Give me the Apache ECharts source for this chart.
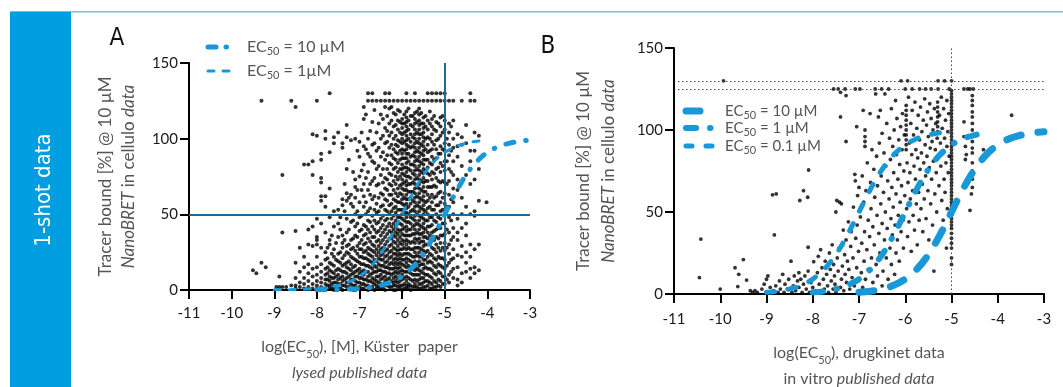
<!DOCTYPE html>
<html><head><meta charset="utf-8">
<script src="https://cdn.jsdelivr.net/npm/echarts@6/dist/echarts.min.js"></script>
<style>html,body{margin:0;padding:0;background:#fff}#c{width:1063px;height:387px}</style>
</head><body><div id="c"></div>
<script>
// ---------- DATA ----------
const xMin = -11, xMax = -3, xStep = 1;
const yMin = 0, yMax = 150, yStep = 50;
const refA = { x: -5, y: 50 };
const refB = { x: -5, ys: [125, 130] };

// Panel A scatter: columns [x, [y values]]
const colsA = [
[-9.5,[13]],[-9.42,[11]],[-9.3,[125,18]],[-9.2,[15]],[-8.95,[2]],[-8.88,[9,2]],[-8.81,[76,38,2]],[-8.72,[2]],
[-8.6,[125,3]],[-8.5,[121,39,18,8,3,1]],[-8.4,[28,12,5,2]],[-8.3,[83,22,15,8,4,1]],[-8.2,[83,40,30,17,11,6,2]],
[-8.1,[103,85,76,42,29,14,9,4,1]],[-8.0,[125,102,47,35,33,30,22,15,10,6,3,1]],
[-7.9,[90,86,74,71,62,59,44,28,17,12,8,5,2,0]],[-7.8,[105,100,62,55,38,25,20,14,10,7,4,1]],
[-7.7,[130,91,67,48,33,30,18,13,9,6,3,1]],[-7.6,[101,97,52,42,27,22,16,11,8,5,2,0]],
[-7.5,[104,53,44,35,24,19,14,10,7,4,1]],[-7.4,[97,94,60,56,36,31,28,21,16,12,9,6,3,0]],
[-7.3,[109,101,80,64,59,47,38,29,25,18,15,11,8,5,2]],[-7.2,[99,63,57,45,33,27,22,17,13,10,7,4,1]],
[-7.1,[100,73,68,61,50,42,36,26,20,16,12,9,6,3,0]],[-7.0,[98,88,75,58,48,39,31,27,22,18,14,11,8,5,2]],
[-6.9,[121,113,95,83,70,62,55,43,36,30,25,21,17,13,10,7,4,1]],
[-6.8,[130,125,100,90,78,66,52,46,40,34,28,24,20,16,12,9,6,3,0]],
[-6.7,[130,125,111,96,85,72,60,49,42,35,30,26,22,18,14,11,8,5,2]],
[-6.6,[125,104,92,80,69,57,51,44,38,32,27,23,19,15,12,9,6,3,1]],
[-6.5,[125,116,100,88,76,64,55,47,41,36,31,27,23,20,16,13,10,7,4,1]],
[-6.4,[130,125,121,107,97,86,74,67,60,53,46,40,35,30,26,22,18,15,12,9,6,3,0]],
[-6.3,[130,125,120,110,102,94,84,77,70,63,56,50,44,39,34,29,25,21,17,14,11,8,5,2]],
[-6.2,[125,117,108,100,93,87,80,72,66,60,54,49,44,40,36,32,28,24,20,17,14,11,8,5,3,0]],
[-6.1,[125,119,112,106,99,95,90,84,78,73,67,62,58,53,48,44,40,37,33,29,26,23,20,17,14,11,8,5,2]],
[-6.0,[125,113,110,107,103,100,97,93,90,87,83,80,77,73,70,67,63,60,57,53,50,47,43,40,37,33,30,27,23,20,17,13,10,7,3,0]],
[-5.9,[130,125,118,114,111,108,105,102,99,96,93,90,87,84,81,78,75,72,69,66,63,60,57,54,51,48,45,42,39,36,33,30,27,24,21,18,15,12,9,6,3,1]],
[-5.8,[125,115,109,103,98,94,88,83,79,74,70,65,61,57,52,48,44,40,36,31,27,23,19,15,11,7,3,0]],
[-5.7,[130,125,117,113,110,106,103,100,97,94,91,88,85,82,79,76,73,70,67,64,61,58,55,52,49,46,43,40,37,34,31,28,25,22,19,16,13,10,7,4,2]],
[-5.6,[125,120,116,112,109,106,103,100,97,94,91,88,85,82,79,76,73,70,67,64,61,58,55,52,49,46,43,40,37,34,31,28,25,22,19,16,13,10,7,4,1]],
[-5.5,[125,114,110,107,104,101,98,95,92,89,86,83,80,77,74,71,68,65,62,59,56,53,50,47,44,41,38,35,32,29,26,23,20,17,14,11,8,5,2]],
[-5.4,[130,125,112,106,101,96,91,86,81,77,72,68,63,59,54,50,46,42,38,34,30,26,22,18,14,10,6,3]],
[-5.3,[130,125,113,108,103,98,93,88,83,78,73,68,63,58,53,48,43,38,33,28,23,18,13,8,4,1]],
[-5.2,[130,125,111,105,99,93,87,80,74,68,62,56,50,45,40,35,30,25,20,15,10,5,2]],
[-5.1,[130,125,114,108,102,95,90,84,78,71,65,58,52,47,41,36,31,26,21,16,11,6,2]],
[-5.0,[130,125,112,106,97,92,85,79,71,64,57,50,44,37,31,26,20,14,9,4]],
[-4.9,[125,110,104,96,89,80,72,63,55,48,38,30,24,18,10,5]],
[-4.8,[125,112,100,94,85,76,67,58,50,41,35,27,21,14,8]],
[-4.7,[103,95,88,73,66,47,38,33,23,15,7,3]],
[-4.6,[125,101,96,82,61,50,41,29,22,11,5]],
[-4.5,[109,97,76,55,44,36,25,18,12]],
[-4.4,[130,125,92,85,70,50,30,22,14,8]],
[-4.3,[125,104,92,73,52,49,27,15,11]],
[-4.2,[102,80,59,30,13]],
[-4.02,[58]]
];
// Panel A: intermediate columns of the dense region
const colsA2 = [
[-7.75,[28,21,15,11,7,3]],[-7.65,[36,24,17,12,8,4,1]],[-7.55,[31,20,13,9,5,2]],
[-7.45,[48,40,25,18,13,8,4,1]],[-7.35,[70,52,33,23,17,12,7,3]],[-7.25,[86,61,40,30,24,19,14,9,5,2]],
[-7.15,[78,55,46,34,28,21,15,11,7,3,0]],[-7.05,[92,66,52,44,35,29,24,19,13,9,5,1]],
[-6.95,[104,79,66,49,40,33,27,22,17,12,8,4,1]],[-6.85,[116,93,74,58,50,42,37,31,26,21,16,12,7,3]],
[-6.75,[105,88,70,63,54,45,38,32,27,23,19,15,10,6,2]],[-6.65,[119,97,84,74,62,53,46,40,35,29,25,20,16,12,7,4,0]],
[-6.55,[110,94,82,70,61,52,45,39,33,29,25,21,17,13,9,5,2]],[-6.45,[113,102,91,80,71,63,56,49,43,38,33,28,24,20,16,12,8,4,1]],
[-6.35,[115,105,98,89,80,73,66,59,52,47,42,37,32,27,23,19,15,11,7,3]],
[-6.25,[121,112,104,96,89,83,76,69,63,57,52,47,42,38,34,30,26,22,18,14,10,6,2]],
[-6.15,[116,109,102,96,91,86,81,75,70,64,59,55,51,46,42,38,35,31,27,24,21,18,15,12,9,6,3,0]],
[-6.05,[118,111,104,98,92,86,80,75,69,64,58,53,48,44,39,35,31,27,24,21,18,15,12,9,6,3,1]],
[-5.95,[116,110,104,98,92,87,81,76,71,66,61,56,51,46,41,36,32,28,24,20,16,12,8,4,1]],
[-5.85,[120,112,106,100,95,90,85,80,75,70,65,60,55,50,45,40,36,32,28,24,20,16,12,8,4,2]],
[-5.75,[115,108,101,95,89,83,77,71,65,59,53,47,42,37,32,27,22,18,14,10,6,2]],
[-5.65,[118,111,104,98,92,86,80,74,68,62,56,50,44,38,33,28,23,18,14,10,6,2]],
[-5.55,[117,110,103,96,90,84,78,72,66,60,54,48,42,37,32,27,22,17,12,8,4,1]],
[-5.45,[115,108,100,93,86,79,72,65,58,52,46,40,35,30,25,20,15,10,6,2]],
[-5.35,[118,110,100,92,84,76,68,61,55,48,42,36,30,24,19,14,9,5,1]],
[-5.25,[115,106,96,86,77,69,61,53,46,39,33,27,21,16,11,6,2]],
[-5.15,[110,100,90,81,72,64,56,48,41,34,28,22,17,12,7,3]],
[-5.05,[115,104,93,82,72,61,53,44,36,28,21,15,9,4]],
[-4.95,[100,85,70,55,40,28,16,7]],[-4.85,[108,92,78,60,46,33,20,12]]
];

// Panel A dose-response curves
const curveA10 = [[-8,0.1],[-7.75,0.2],[-7.5,0.3],[-7.25,0.6],[-7,1],[-6.75,1.7],[-6.5,3.1],[-6.25,5.3],[-6,9.1],[-5.75,15.1],[-5.5,24],[-5.25,36],[-5,50],[-4.75,64],[-4.5,76],[-4.25,84.9],[-4,90.9],[-3.75,94.7],[-3.5,96.9],[-3.25,98.3],[-3,99]];
const curveA1 = [[-9,0.1],[-8.75,0.2],[-8.5,0.3],[-8.25,0.6],[-8,1],[-7.75,1.7],[-7.5,3.1],[-7.25,5.3],[-7,9.1],[-6.75,15.1],[-6.5,24],[-6.25,36],[-6,50],[-5.75,64],[-5.5,76],[-5.25,84.9],[-5,90.9],[-4.75,94.7],[-4.5,96.9],[-4.25,98.3],[-4,99]];

// Panel B scatter points [x, y]
const ptsB_left = [[-10.42,33.5],[-10.45,10],[-10.0,3],[-9.68,16],[-9.6,12],[-9.62,4.5],[-9.5,21],[-9.43,8.5],[-9.35,2],[-9.3,1],[-9.25,2],[-9.2,1],[-9.1,3],[-9.05,6],[-9.0,9],[-8.97,11],[-8.95,1],[-8.92,4],[-8.87,60.5],[-8.79,61],[-8.83,36],[-8.85,2],[-8.8,5],[-8.75,1],[-8.72,8],[-8.7,3],[-8.65,12],[-8.62,1],[-8.6,6],[-8.55,3],[-8.52,9],[-8.47,20],[-8.45,1],[-8.42,5],[-8.4,11],[-8.37,2],[-8.33,8],[-8.3,4],[-8.3,13],[-9.93,130]];
const ptsB_mid = [[-8.28,57],[-8.2,63],[-8.11,59],[-8.09,75.6],[-8.1,28.5],[-8.26,9],[-8.23,1],[-8.2,6],[-8.17,11],[-8.14,3],[-8.1,14],[-8.07,1],[-8.04,7],[-8.0,4],[-7.98,19.7],[-7.96,10],[-7.93,2],[-7.9,13],[-7.88,23],[-7.86,6],[-7.83,27],[-7.82,1],[-7.8,16],[-7.77,9],[-7.75,3],[-7.73,20],[-7.7,12],[-7.68,5],[-7.66,1],[-7.64,25],[-7.62,15],[-7.6,8],[-7.58,30],[-7.56,3],[-7.55,18],[-7.53,11],[-7.5,50],[-7.5,1],[-7.52,6],[-7.48,57],[-7.42,56],[-7.38,55],[-7.34,39],[-7.47,22],[-7.45,14],[-7.43,28],[-7.4,4],[-7.38,9],[-7.36,17],
[-7.33,2],[-7.31,24],[-7.3,12],[-7.28,33],[-7.27,7],[-7.25,20],[-7.23,44],[-7.22,15],[-7.2,3],[-7.18,29],[-7.17,38],[-7.15,10],[-7.13,22],[-7.12,53],[-7.1,5],[-7.09,73],[-7.08,69],[-7.07,34],[-7.05,16],[-7.04,42],[-7.03,60],[-7.02,8],[-7.01,26],[-7.0,65],[-7.0,1],
[-7.28,121],[-7.4,108],[-7.05,102],[-7.28,93],[-7.3,125],[-7.08,125],[-7.55,125],[-7.45,125],[-7.4,123]];
const ptsB_band = [[-6.98,125],[-6.97,47],[-6.95,13],[-6.94,31],[-6.93,72],[-6.92,4],[-6.91,112],[-6.9,56],[-6.89,20],[-6.88,38],[-6.87,100],[-6.87,96],[-6.87,93],[-6.87,90],[-6.86,9],[-6.85,63],[-6.83,27],[-6.82,80],[-6.8,45],[-6.8,15],[-6.78,2],[-6.77,35],[-6.76,110],[-6.75,68],[-6.74,52],[-6.73,22],[-6.72,88],[-6.7,7],[-6.7,41],[-6.68,76],[-6.67,30],[-6.66,59],[-6.65,125],[-6.64,122],[-6.63,18],[-6.62,84],[-6.61,48],[-6.6,66],[-6.6,11],[-6.58,108],[-6.57,37],[-6.56,92],[-6.55,25],[-6.54,112],[-6.53,55],[-6.52,72],[-6.51,125],[-6.5,43],[-6.5,5],[-6.5,98],
[-6.48,14],[-6.47,62],[-6.46,86],[-6.45,33],[-6.44,122],[-6.43,50],[-6.42,78],[-6.41,22],[-6.4,104],[-6.39,40],[-6.38,69],[-6.37,9],[-6.36,125],[-6.35,58],[-6.34,95],[-6.33,28],[-6.32,82],[-6.31,46],[-6.3,113],[-6.3,18],[-6.29,65],[-6.28,36],[-6.27,90],[-6.26,53],[-6.25,74],[-6.24,100],[-6.23,12],[-6.22,42],[-6.21,118],[-6.2,61],[-6.2,25],[-6.19,85],[-6.18,107],[-6.17,33],[-6.16,70],[-6.15,48],[-6.14,94],[-6.13,20],[-6.12,79],[-6.11,56],[-6.1,102],[-6.09,130],[-6.09,38],[-6.08,66],[-6.07,88],[-6.06,110],[-6.05,45],[-6.04,28],[-6.03,75],[-6.02,97],[-6.01,60],[-6.0,125],
[-5.98,115],[-5.98,112],[-5.98,109],[-5.98,106],[-5.98,103],[-5.98,100],[-5.98,97],[-5.98,94],[-5.98,91],[-5.98,88]];
const ptsB_right = [[-5.97,52],[-5.96,80],[-5.95,130],[-5.95,35],[-5.94,68],[-5.93,120],[-5.92,44],[-5.91,92],[-5.9,74],[-5.89,58],[-5.88,104],[-5.87,26],[-5.86,85],[-5.85,125],[-5.85,112],[-5.84,63],[-5.83,48],[-5.82,97],[-5.81,78],[-5.8,39],[-5.79,117],[-5.78,70],[-5.77,88],[-5.76,55],[-5.75,101],[-5.74,30],[-5.73,83],[-5.72,109],[-5.71,62],[-5.7,45],[-5.69,125],[-5.69,94],[-5.68,76],[-5.67,114],[-5.66,52],[-5.65,86],[-5.64,99],[-5.63,67],[-5.62,38],[-5.61,106],[-5.6,80],[-5.59,58],[-5.58,119],[-5.57,91],[-5.56,125],[-5.56,72],[-5.55,46],[-5.54,103],[-5.53,84],[-5.52,111],[-5.51,63],[-5.5,96],[-5.49,33],[-5.48,77],[-5.47,116],[-5.46,89],[-5.45,55],[-5.44,125],[-5.44,107],[-5.43,70],[-5.42,93],[-5.41,42],[-5.4,100],[-5.39,81],[-5.38,14],[-5.37,113],[-5.36,61],[-5.35,88],[-5.34,104],[-5.33,74],[-5.32,50],[-5.31,95],[-5.3,117],[-5.3,114],[-5.3,111],[-5.3,108],[-5.3,105],[-5.3,102],[-5.3,99],[-5.29,125],[-5.29,130],[-5.28,84],[-5.27,66],[-5.26,109],[-5.25,38],[-5.24,92],[-5.23,78],[-5.22,120],[-5.21,57],[-5.2,101],[-5.19,86],[-5.18,45],[-5.17,113],[-5.16,70],[-5.15,130],[-5.15,95],[-5.14,62],[-5.13,106],[-5.12,80],[-5.11,28],[-5.1,118],[-5.1,90],[-5.09,52],[-5.08,99],[-5.07,74],[-5.06,110],[-5.05,84],[-5.05,125]];
const colB5 = [-5, [130,124,122,120,118,116,114,112,110,108,106,104,102,100,98,96,94,92,90,88,86,84,82,80,78,76,74,72,70,68,66,64,62,60,58,56,54,52,50,48,46,44,42,40,37,34,31,28,22,18]];
const ptsB_far = [[-4.6,125],[-4.53,125],[-4.55,121],[-4.55,118],[-4.55,115],[-4.55,111],[-4.55,108],[-4.55,104],[-4.55,100],[-4.55,97],[-4.55,93],[-4.55,89],[-4.55,86],[-4.55,80],[-4.55,75],[-4.55,70],[-4.55,65],[-4.57,61],[-4.6,51],[-4.73,105],[-4.73,96],[-4.7,90],[-4.7,82],[-4.68,85],[-4.31,88],[-3.7,109],[-4.73,125],[-4.65,125]];

// Panel B dose-response curves
const curveB10 = [[-7,1],[-6.75,1.7],[-6.5,3.1],[-6.25,5.3],[-6,9.1],[-5.75,15.1],[-5.5,24],[-5.25,36],[-5,50],[-4.75,64],[-4.5,76],[-4.25,84.9],[-4,90.9],[-3.75,94.7],[-3.5,96.9],[-3.25,98.3],[-3,99]];
const curveB1 = [[-8,1],[-7.75,1.7],[-7.5,3.1],[-7.25,5.3],[-7,9.1],[-6.75,15.1],[-6.5,24],[-6.25,36],[-6,50],[-5.75,64],[-5.5,76],[-5.25,84.9],[-5,90.9],[-4.75,94.7],[-4.5,96.9],[-4.25,98.3]];
const curveB01 = [[-9,1],[-8.75,1.7],[-8.5,3.1],[-8.25,5.3],[-8,9.1],[-7.75,15.1],[-7.5,24],[-7.25,36],[-7,50],[-6.75,64],[-6.5,76],[-6.25,84.9],[-6,90.9],[-5.75,94.7],[-5.5,96.9],[-5.25,98.3],[-5,99]];

// ---------- BUILD ----------
function flatCols(cols){ const o=[]; cols.forEach(c=>c[1].forEach(y=>o.push([c[0],y]))); return o; }
const dataA = flatCols(colsA).concat(flatCols(colsA2));
const dataB = [].concat(ptsB_left, ptsB_mid, ptsB_band, ptsB_right, flatCols([colB5]), ptsB_far);

const FONT = 'Lato, "Noto Sans", sans-serif';
const BLUE = '#1898d8';
const GREY = '#555';

function xAxisCfg(gi, name, gap, margin){
  return { gridIndex: gi, type:'value', min:xMin, max:xMax, interval:xStep,
    axisLine:{show:true, onZero:false, lineStyle:{color:'#000', width:2}},
    axisTick:{show:true, length:9, lineStyle:{color:'#000', width:2}},
    axisLabel:{margin:margin, fontSize:15, color:'#1a1a1a', fontFamily:FONT},
    splitLine:{show:false},
    name:name, nameLocation:'middle', nameGap:gap,
    nameTextStyle:{fontFamily:FONT, fontSize:16, color:GREY, lineHeight:26,
      rich:{t:{fontFamily:FONT, fontSize:16, color:GREY, lineHeight:26},
            s:{fontFamily:FONT, fontSize:11, color:GREY, lineHeight:19, verticalAlign:'bottom'},
            i:{fontFamily:FONT, fontSize:16, color:GREY, lineHeight:26, fontStyle:'italic'}}}
  };
}
function yAxisCfg(gi, name, gap, lh){
  return { gridIndex: gi, type:'value', min:yMin, max:yMax, interval:yStep,
    axisLine:{show:true, onZero:false, lineStyle:{color:'#000', width:2}},
    axisTick:{show:true, length:9, lineStyle:{color:'#000', width:2}},
    axisLabel:{margin:11, fontSize:15, color:'#1a1a1a', fontFamily:FONT},
    splitLine:{show:false},
    name:name, nameLocation:'middle', nameGap:gap, nameRotate:90,
    nameTextStyle:{fontFamily:FONT, fontSize:17, color:GREY, lineHeight:lh,
      rich:{t:{fontFamily:FONT, fontSize:17, color:GREY, lineHeight:lh},
            i:{fontFamily:FONT, fontSize:17, color:GREY, lineHeight:lh, fontStyle:'italic'}}}
  };
}
const yName = '{t|Tracer bound [%] @ 10 µM}\n{i|NanoBRET}{t| in cellulo }{i|data}';

function scatter(xi, data, size, markLine){
  return {type:'scatter', xAxisIndex:xi, yAxisIndex:xi, data:data, symbol:'circle', symbolSize:size,
    itemStyle:{color:'#000'}, silent:true, z:2, markLine:markLine};
}
function curve(xi, data, width, dash){
  return {type:'line', xAxisIndex:xi, yAxisIndex:xi, data:data, smooth:0.35, showSymbol:false, symbol:'none',
    lineStyle:{color:BLUE, width:width, type:dash, cap:'round'}, silent:true, z:5};
}

function legendItem(x, y, width, dash, label, fs){
  return [
    {type:'line', shape:{x1:x, y1:y, x2:x+26, y2:y}, style:{stroke:BLUE, lineWidth:width, lineDash:dash, lineCap:'round'}},
    {type:'text', x:x+39, y:y, style:{text:label, fill:GREY, verticalAlign:'middle', align:'left',
      rich:{t:{fontFamily:FONT, fontSize:fs, fill:GREY, lineHeight:20},
            s:{fontFamily:FONT, fontSize:11, fill:GREY, lineHeight:13, verticalAlign:'bottom'}}}}
  ];
}

const option = {
  animation:false,
  backgroundColor:'#fff',
  grid:[{left:189, top:63, width:341, height:227, outerBoundsMode:'none', containLabel:false},
        {left:674, top:48, width:370, height:246, outerBoundsMode:'none', containLabel:false}],
  xAxis:[
    xAxisCfg(0, '{t|log(EC}{s|50}{t|), [M], Küster  paper}\n{i|lysed published data}', 44, 16),
    xAxisCfg(1, '{t|log(EC}{s|50}{t|), drugkinet data}\n{t|in vitro }{i|published data}', 46, 18)
  ],
  yAxis:[ yAxisCfg(0, yName, 49, 23), yAxisCfg(1, yName, 53, 25) ],
  series:[
    scatter(0, dataA, 4, {silent:true, symbol:'none', animation:false, label:{show:false},
      lineStyle:{color:'#1f6a95', width:2, type:'solid'},
      data:[{xAxis:refA.x},{yAxis:refA.y}]}),
    curve(0, curveA10, 5, [8,12,0.5,12]),
    curve(0, curveA1, 3, [6,9]),
    scatter(1, dataB, 3.8, {silent:true, symbol:'none', animation:false, label:{show:false},
      lineStyle:{color:'#444', width:1, type:[1.5,2.5]},
      data:[{xAxis:refB.x},{yAxis:refB.ys[0]},{yAxis:refB.ys[1]}]}),
    curve(1, curveB10, 7, [15,17]),
    curve(1, curveB1, 6, [10,14,0.5,14]),
    curve(1, curveB01, 5, [8,14])
  ],
  graphic:[
    {type:'rect', shape:{x:10, y:11, width:1053, height:1.5}, style:{fill:'#6cc3ea'}},
    {type:'rect', shape:{x:10, y:12, width:61, height:375}, style:{fill:'#009ee0'}},
    {type:'text', x:44, y:190, rotation:Math.PI/2, style:{text:'1-shot data', fill:'#fff', fontSize:22, fontFamily:'"DejaVu Sans Condensed", "DejaVu Sans", sans-serif', align:'center', verticalAlign:'middle'}},
    {type:'text', x:117, y:39, style:{text:'A', fill:'#111', fontSize:24, fontFamily:'"DejaVu Sans Condensed", "DejaVu Sans", sans-serif', align:'center', verticalAlign:'middle'}},
    {type:'text', x:548, y:47, style:{text:'B', fill:'#111', fontSize:24, fontFamily:'"DejaVu Sans Condensed", "DejaVu Sans", sans-serif', align:'center', verticalAlign:'middle'}},
    ...legendItem(208, 47, 5, [8,10,0.5,10], '{t|EC}{s|50}{t| = 10 µM}', 16),
    ...legendItem(208, 71, 3, [6,9], '{t|EC}{s|50}{t| = 1µM}', 16),
    ...legendItem(686, 111, 7, [14,30], '{t|EC}{s|50}{t| = 10 µM}', 15),
    ...legendItem(686, 128, 6, [10,14,0.5,14], '{t|EC}{s|50}{t| = 1 µM}', 15),
    ...legendItem(686, 146, 5, [6,14], '{t|EC}{s|50}{t| = 0.1 µM}', 15)
  ]
};
const chart = echarts.init(document.getElementById('c'), null, {renderer:'canvas', width:1063, height:387});
chart.setOption(option);
</script>
</body></html>
